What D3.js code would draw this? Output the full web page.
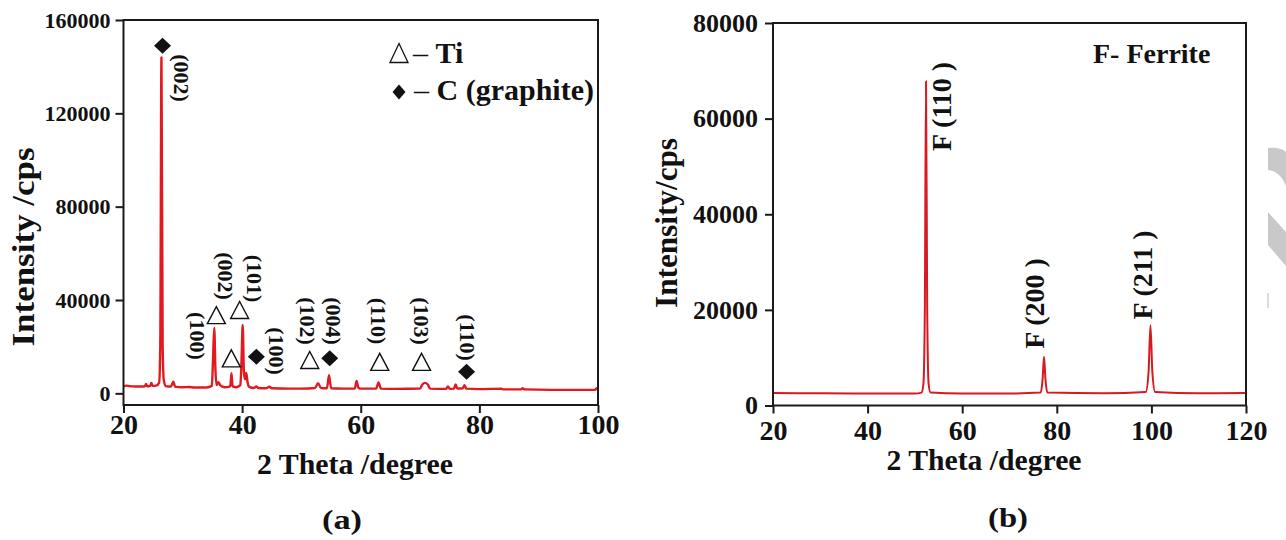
<!DOCTYPE html>
<html>
<head>
<meta charset="utf-8">
<script src="https://cdn.jsdelivr.net/npm/d3@7"></script>
<style>
  body { margin: 0; background: #fff; }
  svg text { font-family: "Liberation Serif", "Times New Roman", serif; font-weight: bold; fill: #111; }
</style>
</head>
<body>
<svg id="chart" width="1286" height="540"></svg>
<script>
// ---- panel (a): Ti / graphite pattern ----
var leftTheta = [20, 20.5, 21, 22, 23, 23.6, 23.8, 24, 24.5, 24.7, 24.9, 25.5, 26, 26.2, 26.4, 26.6, 26.8, 27.2,
  28, 28.4, 28.7, 30, 31, 32, 34, 34.9, 35.1, 35.3, 35.5, 35.7, 36, 36.3, 37, 38, 38.2, 38.4, 39, 39.7, 39.9,
  40.1, 40.3, 40.5, 40.7, 40.9, 41.2, 42, 42.4, 42.7, 44, 44.6, 45, 48, 50, 52.3, 52.8, 53.3, 54.3, 54.65, 55,
  57, 59, 59.3, 59.6, 60, 62.6, 63, 63.4, 66, 70, 70.4, 70.8, 71.3, 71.7, 74.4, 74.7, 75, 75.7, 76, 76.3, 77.2,
  77.5, 77.8, 80, 83.7, 84, 87, 87.3, 87.6, 92, 96, 99.5, 99.8, 100];
var leftCounts = [3000, 3300, 3100, 2900, 2900, 3000, 4000, 3000, 3200, 4500, 3200, 3300, 4500, 20000, 144000, 20000, 5500, 3000,
  2900, 5000, 2900, 2600, 2700, 2500, 2500, 3200, 15000, 28000, 10000, 3500, 4800, 3500, 2600, 3000, 8600, 3000, 2600, 3500, 14000,
  29300, 9000, 6000, 8700, 5000, 2800, 2300, 3000, 2300, 2200, 2800, 2200, 2000, 2000, 2300, 4300, 2300, 2200, 7800, 2200,
  2000, 2100, 5300, 2400, 2000, 2000, 4700, 2000, 1900, 2100, 3800, 4500, 3800, 2000, 1900, 3000, 1900, 2000, 3800, 2000, 2200,
  3500, 2000, 1800, 2000, 1700, 1700, 2200, 1700, 1500, 1500, 1500, 2200, 1800];
var leftXTicks = [20, 40, 60, 80, 100];
var leftYTicks = [0, 40000, 80000, 120000, 160000];

// marker anchors [2theta, counts]
var tiMarkers = [[35.65, 33500], [39.58, 35700], [38.18, 15000], [51.4, 14300], [63.2, 13500], [70.25, 13500]];
var graphiteMarkers = [[26.58, 149000], [42.4, 15700], [54.77, 15000], [77.84, 9300]];
var leftLabels = ["(002)", "(100)", "(002)", "(101)", "(100)", "(102)", "(004)", "(110)", "(103)", "(110)"];
var leftLabelTheta = [29.73, 32.54, 37.2, 42.1, 45.77, 50.97, 55.44, 63.04, 70.25, 78.06];
var leftLabelCounts = [135100, 24600, 50300, 49200, 18150, 31000, 31000, 31000, 31000, 23900];

// ---- panel (b): ferrite pattern ----
var rightTheta = [20, 30, 40, 50, 51.4, 51.8, 52.1, 52.35, 52.6, 52.9, 53.3, 60, 70, 76.6, 77, 77.3, 77.6, 78,
  90, 98.8, 99.4, 99.8, 100.2, 100.8, 110, 120];
var rightCounts = [2600, 2550, 2500, 2500, 2700, 4500, 20000, 67800, 20000, 4500, 2700, 2500, 2500, 2700, 5500, 10200, 5500, 2700,
  2550, 2800, 7000, 16800, 7000, 2800, 2550, 2600];
var rightXTicks = [20, 40, 60, 80, 100, 120];
var rightYTicks = [0, 20000, 40000, 60000, 80000];
var rightLabels = ["F (110 )", "F (200 )", "F (211 )"];
var rightLabelTheta = [55.67, 75.39, 98.2];
var rightLabelCounts = [62550, 21340, 27300];

var svg = d3.select("#chart");
svg.append("rect").attr("width", 1286).attr("height", 540).attr("fill", "#fff");

function rhombus(w, h) {
  return "M0," + (-h / 2) + "L" + (w / 2) + ",0L0," + (h / 2) + "L" + (-w / 2) + ",0Z";
}
function triangle(w, h) {
  return "M0," + (-h / 2) + "L" + (w / 2) + "," + (h / 2) + "L" + (-w / 2) + "," + (h / 2) + "Z";
}

function drawPanel(p) {
  var g = svg.append("g");
  var x = d3.scaleLinear().domain(p.xDomain).range([p.left, p.right]);
  var y = d3.scaleLinear().domain(p.yDomain).range([p.bottom, p.top]);

  //pattern
  var line = d3.line()
    .x(function(d) { return x(d[0]); })
    .y(function(d) { return y(d[1]); })
    .curve(d3.curveMonotoneX);
  g.append("path")
    .datum(d3.zip(p.theta, p.counts))
    .attr("d", line)
    .attr("fill", "none")
    .attr("stroke", p.color)
    .attr("stroke-width", p.lineWidth)
    .attr("stroke-linejoin", "round");

  //frame
  g.append("rect")
    .attr("x", p.left).attr("y", p.top)
    .attr("width", p.right - p.left).attr("height", p.bottom - p.top)
    .attr("fill", "none").attr("stroke", "#1a1a1a").attr("stroke-width", 2);

  //axes
  var xa = g.append("g")
    .attr("transform", "translate(0," + p.bottom + ")")
    .call(d3.axisBottom(x).tickValues(p.xTicks).tickSize(8).tickPadding(p.xPad).tickFormat(d3.format("d")));
  var ya = g.append("g")
    .attr("transform", "translate(" + p.left + ",0)")
    .call(d3.axisLeft(y).tickValues(p.yTicks).tickSize(8).tickPadding(p.yPad).tickFormat(d3.format("d")));
  [xa, ya].forEach(function(a) {
    a.attr("font-size", null).attr("font-family", null);
    a.select(".domain").remove();
    a.selectAll(".tick line").attr("stroke", "#1a1a1a").attr("stroke-width", 2);
  });
  xa.selectAll("text").attr("font-size", p.xFont);
  ya.selectAll("text").attr("font-size", p.yFont);

  //titles
  g.append("text")
    .attr("x", p.xTitle[0]).attr("y", p.xTitle[1])
    .attr("text-anchor", "middle")
    .attr("font-size", 29)
    .attr("textLength", p.xTitle[2]).attr("lengthAdjust", "spacingAndGlyphs")
    .text("2 Theta /degree");
  g.append("text")
    .attr("transform", "translate(" + p.yTitle[0] + "," + p.yTitle[1] + ") rotate(-90)")
    .attr("text-anchor", "middle")
    .attr("font-size", 31)
    .attr("textLength", p.yTitle[2]).attr("lengthAdjust", "spacingAndGlyphs")
    .text(p.yTitleText);
  g.append("text")
    .attr("x", p.caption[0]).attr("y", p.caption[1])
    .attr("text-anchor", "middle")
    .attr("font-size", 27)
    .attr("textLength", 40).attr("lengthAdjust", "spacingAndGlyphs")
    .text(p.captionText);

  //peak labels
  g.selectAll("text.peak")
    .data(d3.range(p.labels.length))
    .enter()
    .append("text")
    .attr("class", "peak")
    .attr("transform", function(i) {
      return "translate(" + x(p.labelTheta[i]) + "," + y(p.labelCounts[i]) + ") rotate(" + p.labelAngle + ")";
    })
    .attr("text-anchor", "middle")
    .attr("dominant-baseline", "central")
    .attr("font-size", p.labelFont)
    .text(function(i) { return p.labels[i]; });

  return { g: g, x: x, y: y };
}

// panel (a)
var a = drawPanel({
  xDomain: [20, 100], yDomain: [-5000, 160000],
  left: 123.5, right: 598, top: 20, bottom: 405,
  theta: leftTheta, counts: leftCounts, color: "#e2191e", lineWidth: 2.4,
  xTicks: leftXTicks, yTicks: leftYTicks, xPad: 1, yPad: 5, xFont: 28, yFont: 22,
  xTitle: [355, 474, 196], yTitle: [34, 247, 199], yTitleText: "Intensity /cps",
  caption: [342, 529], captionText: "(a)",
  labels: leftLabels, labelTheta: leftLabelTheta, labelCounts: leftLabelCounts, labelAngle: 90, labelFont: 22
});

a.g.selectAll("path.ti")
  .data(tiMarkers)
  .enter()
  .append("path")
  .attr("class", "ti")
  .attr("d", triangle(18, 17))
  .attr("transform", function(d) { return "translate(" + a.x(d[0]) + "," + a.y(d[1]) + ")"; })
  .attr("fill", "#fff").attr("stroke", "#111").attr("stroke-width", 1.4);

a.g.selectAll("path.graphite")
  .data(graphiteMarkers)
  .enter()
  .append("path")
  .attr("class", "graphite")
  .attr("d", rhombus(17, 16))
  .attr("transform", function(d) { return "translate(" + a.x(d[0]) + "," + a.y(d[1]) + ")"; })
  .attr("fill", "#111");

//legend
var legend = a.g.append("g").attr("transform", "translate(399,0)");
legend.append("path").attr("d", triangle(18, 19)).attr("transform", "translate(0,53)")
  .attr("fill", "none").attr("stroke", "#111").attr("stroke-width", 1.3);
legend.append("path").attr("d", rhombus(13, 15)).attr("transform", "translate(0,92)").attr("fill", "#111");
var l1 = legend.append("text").attr("x", 14).attr("y", 63).attr("font-size", 30);
l1.append("tspan").attr("font-weight", "normal").text("– ");
l1.append("tspan").text("Ti");
var l2 = legend.append("text").attr("x", 15).attr("y", 100).attr("font-size", 30);
l2.append("tspan").attr("font-weight", "normal").text("– ");
l2.append("tspan").text("C (graphite)");

// panel (b)
var b = drawPanel({
  xDomain: [20, 120], yDomain: [0, 80000],
  left: 773, right: 1246, top: 23, bottom: 405.5,
  theta: rightTheta, counts: rightCounts, color: "#d8191f", lineWidth: 2,
  xTicks: rightXTicks, yTicks: rightYTicks, xPad: 7, yPad: 7, xFont: 28, yFont: 26,
  xTitle: [984, 470, 195], yTitle: [677, 223, 170], yTitleText: "Intensity/cps",
  caption: [1008, 527], captionText: "(b)",
  labels: rightLabels, labelTheta: rightLabelTheta, labelCounts: rightLabelCounts, labelAngle: -90, labelFont: 28
});

b.g.append("text")
  .attr("x", 1093).attr("y", 63)
  .attr("font-size", 28)
  .text("F- Ferrite");

//faint watermark remnant on the right edge
svg.append("path")
  .attr("d", "M1268,148 C1276,147 1283,149 1286,152 L1286,186 C1282,176 1276,171 1268,170 Z M1268,212 L1286,232 L1286,266 L1268,245 Z")
  .attr("fill", "#c9c9c9");
svg.append("rect").attr("x", 1267).attr("y", 293).attr("width", 2).attr("height", 15).attr("fill", "#dcdcdc");
</script>
</body>
</html>
